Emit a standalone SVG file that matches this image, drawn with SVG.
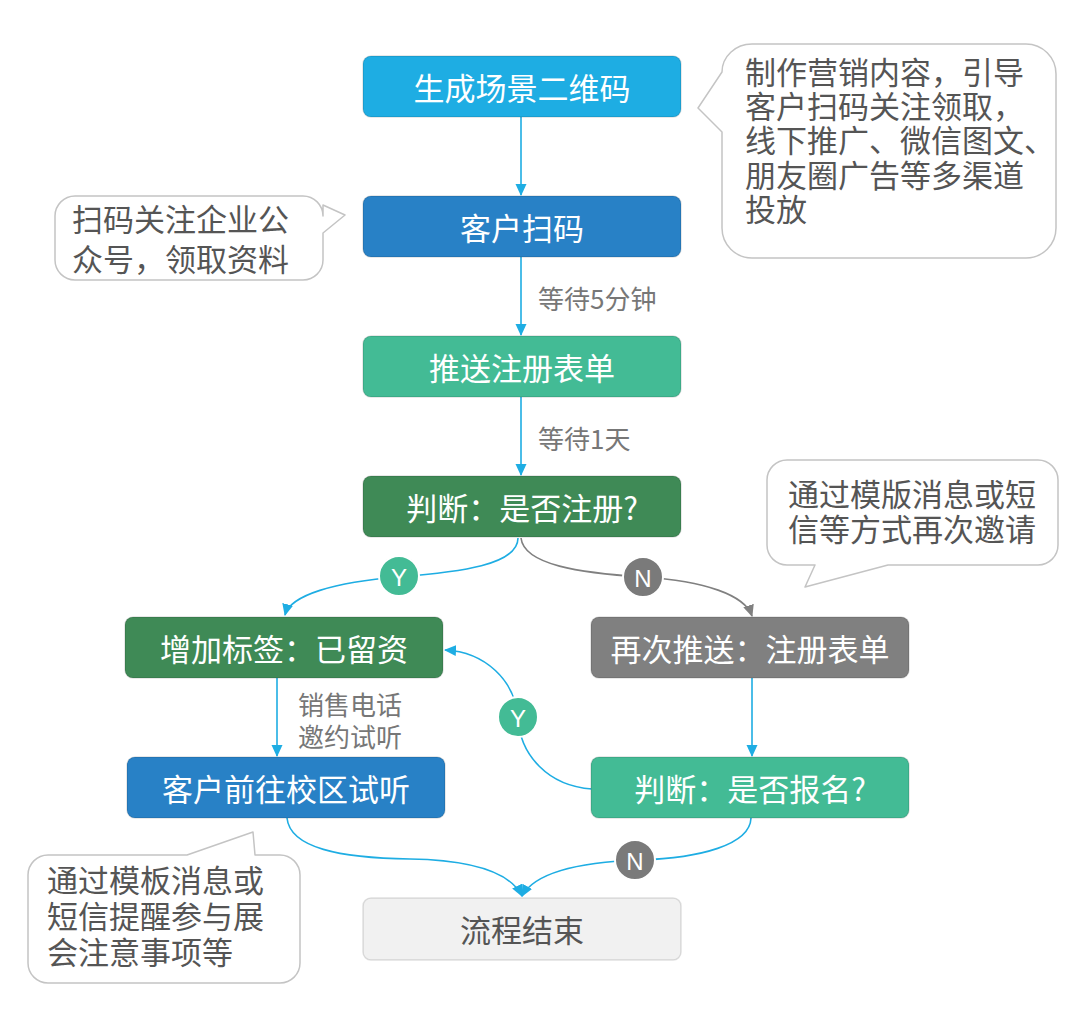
<svg xmlns="http://www.w3.org/2000/svg" width="1080" height="1015" viewBox="0 0 1080 1015">
<style>
.node rect{stroke:#000;stroke-opacity:0.12;stroke-width:1.5}
.nt{font-family:"Noto Sans CJK SC","Noto Sans",sans-serif;font-size:31px;fill:#fff;text-anchor:middle;dominant-baseline:central}
.ct{font-family:"Noto Sans CJK SC","Noto Sans",sans-serif;font-size:31px;fill:#555}
.lbl{font-family:"Noto Sans CJK SC","Noto Sans",sans-serif;font-size:26px;fill:#777}
.callout{fill:#fff;stroke:#c4c4c4;stroke-width:1.5;stroke-linejoin:round}
.cb{fill:none;stroke:#1eade3;stroke-width:1.6}
.cg{fill:none;stroke:#808080;stroke-width:1.6}
.yn{font-family:"Liberation Sans",Arial,sans-serif;font-size:24px;fill:#fff;text-anchor:middle;dominant-baseline:central}
</style>
<defs>
<marker id="ab" markerWidth="12" markerHeight="12" refX="11" refY="6" orient="auto" markerUnits="userSpaceOnUse"><path d="M0,0.5 L12,6 L0,11.5 Z" fill="#1eade3"/></marker>
<marker id="ag" markerWidth="12" markerHeight="12" refX="11" refY="6" orient="auto" markerUnits="userSpaceOnUse"><path d="M0,0.5 L12,6 L0,11.5 Z" fill="#808080"/></marker>
</defs>
<rect width="1080" height="1015" fill="#fff"/>

<g id="connectors">
<path class="cb" d="M521,117 V195" marker-end="url(#ab)"/>
<path class="cb" d="M521,257 V335" marker-end="url(#ab)"/>
<path class="cb" d="M521,397 V475" marker-end="url(#ab)"/>
<path class="cb" d="M518,538 C518,565 460,572 399,577 C335,582 290,595 285,615" marker-end="url(#ab)"/>
<path class="cg" d="M521,538 C524,565 580,573 643,577 C705,581 745,595 752,616" marker-end="url(#ag)"/>
<path class="cb" d="M277,678 V756" marker-end="url(#ab)"/>
<path class="cb" d="M752,678 V756" marker-end="url(#ab)"/>
<path class="cb" d="M592,789 C548,786 520,755 518,718 C515,680 485,652 445,650" marker-end="url(#ab)"/>
<path class="cb" d="M287,818 C290,848 340,858 410,859 C470,860 510,872 522,896" marker-end="url(#ab)"/>
<path class="cb" d="M751,818 C750,845 700,858 640,860 C580,862 535,872 522,896" marker-end="url(#ab)"/>
<text class="lbl" x="538" y="309">等待5分钟</text>
<text class="lbl" x="538" y="449">等待1天</text>
<text class="lbl" x="298" y="715"><tspan x="298">销售电话</tspan><tspan x="298" dy="32">邀约试听</tspan></text>
<g id="yn-labels">
<circle cx="399" cy="576" r="20" fill="#43bb95" stroke="#fff" stroke-width="2"/>
<text class="yn" x="399" y="577">Y</text>
<circle cx="643" cy="577" r="20" fill="#7a7a7a" stroke="#fff" stroke-width="2"/>
<text class="yn" x="643" y="578">N</text>
<circle cx="518" cy="717" r="20" fill="#43bb95" stroke="#fff" stroke-width="2"/>
<text class="yn" x="518" y="718">Y</text>
<circle cx="635" cy="860" r="20" fill="#7a7a7a" stroke="#fff" stroke-width="2"/>
<text class="yn" x="635" y="861">N</text>
</g>
</g>

<g id="n1" class="node"><rect x="363" y="56" width="318" height="61" rx="8" fill="#1eade3"/><text class="nt" x="522" y="86">生成场景二维码</text></g>
<g id="n2" class="node"><rect x="363" y="196" width="318" height="61" rx="8" fill="#2881c6"/><text class="nt" x="522" y="226">客户扫码</text></g>
<g id="n3" class="node"><rect x="363" y="336" width="318" height="61" rx="8" fill="#43bb95"/><text class="nt" x="522" y="366">推送注册表单</text></g>
<g id="n4" class="node"><rect x="363" y="476" width="318" height="61" rx="8" fill="#3f8a56"/><text class="nt" x="522" y="506">判断：是否注册?</text></g>
<g id="n5" class="node"><rect x="125" y="617" width="318" height="61" rx="8" fill="#3f8a56"/><text class="nt" x="284" y="647">增加标签：已留资</text></g>
<g id="n6" class="node"><rect x="591" y="617" width="318" height="61" rx="8" fill="#808080"/><text class="nt" x="750" y="647">再次推送：注册表单</text></g>
<g id="n7" class="node"><rect x="127" y="757" width="318" height="61" rx="8" fill="#2881c6"/><text class="nt" x="286" y="787">客户前往校区试听</text></g>
<g id="n8" class="node"><rect x="591" y="757" width="318" height="61" rx="8" fill="#43bb95"/><text class="nt" x="750" y="787">判断：是否报名?</text></g>
<g id="n9" class="node"><rect x="363" y="898" width="318" height="62" rx="8" fill="#f1f1f1" stroke="#c8c8c8" stroke-opacity="1"/><text class="nt" x="522" y="928" style="fill:#555">流程结束</text></g>

<g id="c1">
<path class="callout" d="M752,44 H1026 A30,30 0 0 1 1056,74 V228 A30,30 0 0 1 1026,258 H752 A30,30 0 0 1 722,228 V132 L698,108 L722,72 A30,28 0 0 1 752,44 Z"/>
<text class="ct" x="745" y="84"><tspan x="745">制作营销内容，引导</tspan><tspan x="745" dy="34">客户扫码关注领取，</tspan><tspan x="745" dy="34">线下推广、微信图文、</tspan><tspan x="745" dy="35">朋友圈广告等多渠道</tspan><tspan x="745" dy="34">投放</tspan></text>
</g>
<g id="c2">
<path class="callout" d="M75,196 H303 A20,20 0 0 1 323,216 V205 L345,215 L323,233 V260 A20,20 0 0 1 303,280 H75 A20,20 0 0 1 55,260 V216 A20,20 0 0 1 75,196 Z"/>
<text class="ct" x="72" y="231"><tspan x="72">扫码关注企业公</tspan><tspan x="72" dy="40">众号，领取资料</tspan></text>
</g>
<g id="c3">
<path class="callout" d="M787,460 H1038 A20,20 0 0 1 1058,480 V545 A20,20 0 0 1 1038,565 H888 L805,587 L815,565 H787 A20,20 0 0 1 767,545 V480 A20,20 0 0 1 787,460 Z"/>
<text class="ct" x="788" y="506"><tspan x="788">通过模版消息或短</tspan><tspan x="788" dy="35">信等方式再次邀请</tspan></text>
</g>
<g id="c4">
<path class="callout" d="M48,855 H187 L253,832 L255,855 H280 A20,20 0 0 1 300,875 V963 A20,20 0 0 1 280,983 H48 A20,20 0 0 1 28,963 V875 A20,20 0 0 1 48,855 Z"/>
<text class="ct" x="47" y="892"><tspan x="47">通过模板消息或</tspan><tspan x="47" dy="36">短信提醒参与展</tspan><tspan x="47" dy="36">会注意事项等</tspan></text>
</g>
</svg>
